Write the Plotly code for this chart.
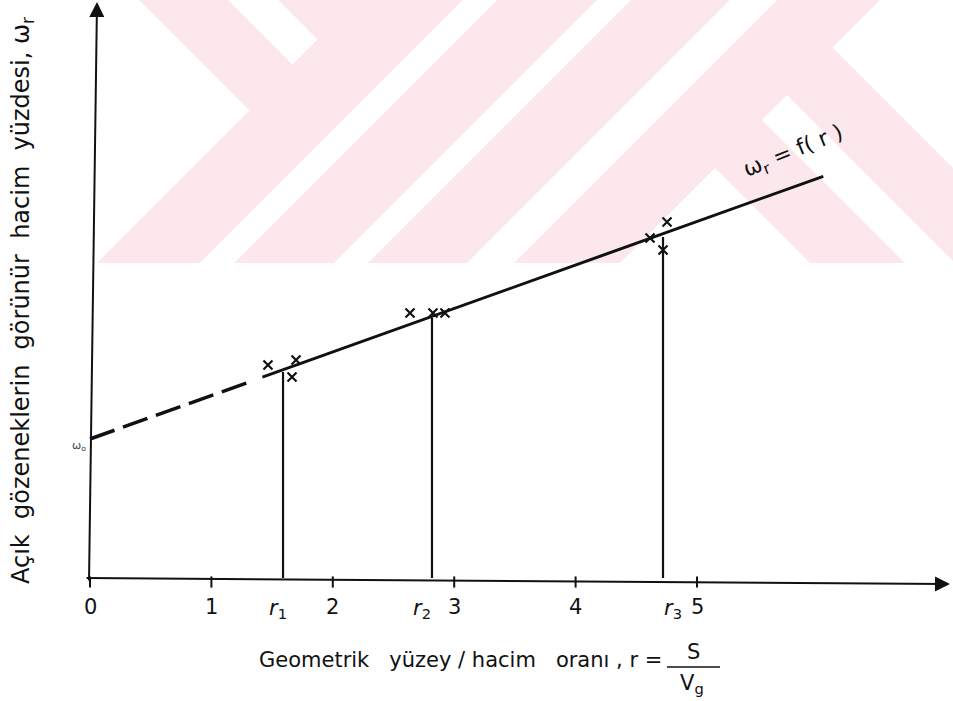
import plotly.graph_objects as go

# ---------------- data ----------------
x_ticks = [0, 1, 2, 3, 4, 5]
x_tick_labels = ["0", "1", "2", "3", "4", "5"]

r_dashed = [0.0, 1.32]          # extrapolated part of omega_r = f(r)
w_dashed = [1.39, 1.964]
r_solid = [1.42, 6.04]          # measured part of omega_r = f(r)
w_solid = [2.008, 4.017]

r_marks = [1.59, 2.817, 4.72]   # r1, r2, r3
w_marks = [2.06, 2.60, 3.41]
r_mark_labels = ["<i>r</i><sub>1</sub>", "<i>r</i><sub>2</sub>", "<i>r</i><sub>3</sub>"]

cross_r = [1.466, 1.697, 1.664, 2.636, 2.825, 2.924, 4.613, 4.753, 4.72]
cross_w = [2.13, 2.18, 2.01, 2.65, 2.65, 2.65, 3.40, 3.56, 3.28]

# ---------------- layout helpers ----------------
W, H = 953, 701
PX0, PXU = 90.0, 121.4      # pixel of r=0, pixels per r unit
PY0, PYU = 578.0, 100.0     # pixel of w=0, pixels per w unit
x_range = [-PX0 / PXU, (W - PX0) / PXU]
y_range = [(PY0 - H) / PYU, PY0 / PYU]

def px(x):
    return x / W

def py(y):
    return 1 - y / H

FONT = "DejaVu Sans"
INK = "#111111"
PINK = "#fce8ec"
SP3 = "\u00a0\u00a0 "
SP2 = "\u00a0 "

fig = go.Figure()

# dashed extrapolation
fig.add_trace(go.Scatter(x=r_dashed, y=w_dashed, mode="lines",
                         line=dict(color=INK, width=3.5, dash="26px,9px"),
                         hoverinfo="skip", showlegend=False))
# solid line
fig.add_trace(go.Scatter(x=r_solid, y=w_solid, mode="lines",
                         line=dict(color=INK, width=3),
                         hoverinfo="skip", showlegend=False))
# vertical lines at r1, r2, r3
vx, vy = [], []
for r, w in zip(r_marks, w_marks):
    vx += [r, r, None]
    vy += [w, 0, None]
fig.add_trace(go.Scatter(x=vx, y=vy, mode="lines",
                         line=dict(color=INK, width=2.2),
                         hoverinfo="skip", showlegend=False))
# measured points (crosses)
fig.add_trace(go.Scatter(x=cross_r, y=cross_w, mode="markers",
                         marker=dict(symbol="x-thin-open", size=9, color=INK,
                                     line=dict(color=INK, width=2.2)),
                         hoverinfo="skip", showlegend=False))
# tick marks on the x axis
fig.add_trace(go.Scatter(x=x_ticks, y=[-0.04] * len(x_ticks), mode="markers",
                         marker=dict(symbol="line-ns-open", size=8, color=INK,
                                     line=dict(color=INK, width=2)),
                         hoverinfo="skip", showlegend=False))

# ---------------- watermark (decorative, pixel coordinates) ----------------
def poly(pts, color):
    d = "M " + " L ".join(f"{px(a):.5f},{py(b):.5f}" for a, b in pts) + " Z"
    return dict(type="path", xref="paper", yref="paper", path=d,
                fillcolor=color, line=dict(width=0), layer="below")

shapes = [dict(type="rect", xref="paper", yref="paper",
               x0=px(90), x1=px(953), y0=py(263), y1=py(0),
               fillcolor=PINK, line=dict(width=0), layer="below")]
white_polys = [
    [(90, 0), (139, 0), (249.5, 110.5), (97, 263), (90, 263)],
    [(228, 0), (278, 0), (317.5, 39.5), (292.5, 64.5)],
    [(463, 0), (497, 0), (234, 263), (200, 263)],
    [(597, 0), (631, 0), (368, 263), (334, 263)],
    [(730, 0), (777, 0), (514, 263), (467, 263)],
    [(715, 168), (620, 263), (810, 263)],
    [(762, 120), (787, 95), (955, 263), (905, 263)],
    [(880, 0), (953, 0), (953, 168), (832.5, 47.5)],
]
for p in white_polys:
    shapes.append(poly(p, "white"))

# fraction bar of r = S / Vg
shapes.append(dict(type="line", xref="paper", yref="paper",
                   x0=px(667), x1=px(720), y0=py(667), y1=py(667),
                   line=dict(color=INK, width=1.6)))

# ---------------- annotations ----------------
ann = []
# axes with arrow heads
ann.append(dict(x=(950 - PX0) / PXU, y=(PY0 - 584) / PYU, ax=-865, ay=-6,
                xref="x", yref="y", text="", showarrow=True,
                arrowhead=2, arrowsize=1.5, arrowwidth=2, arrowcolor=INK))
ann.append(dict(x=(97 - PX0) / PXU, y=(PY0 - 2) / PYU, ax=-8, ay=580,
                xref="x", yref="y", text="", showarrow=True,
                arrowhead=2, arrowsize=1.5, arrowwidth=2, arrowcolor=INK))
# tick labels
for t, lab in zip(x_ticks, x_tick_labels):
    ann.append(dict(x=t, y=(PY0 - 607) / PYU, xref="x", yref="y", text=lab,
                    xanchor="center", yanchor="middle",
                    showarrow=False, font=dict(family=FONT, size=21, color=INK)))
# r1, r2, r3 labels
shifts = [-5, -10, 10]
for r, lab, s in zip(r_marks, r_mark_labels, shifts):
    ann.append(dict(x=r, y=(PY0 - 609) / PYU, xref="x", yref="y", text=lab,
                    xshift=s, showarrow=False, xanchor="center", yanchor="middle",
                    font=dict(family=FONT, size=21, color=INK)))
# curve label
ann.append(dict(x=(793 - PX0) / PXU, y=(PY0 - 152) / PYU, xref="x", yref="y",
                text="ω<sub>r</sub> = f( r )", textangle=-22, showarrow=False,
                xanchor="center", yanchor="middle",
                font=dict(family=FONT, size=22, color=INK)))
# omega_0 mark at the intercept
ann.append(dict(x=(79 - PX0) / PXU, y=(PY0 - 446) / PYU, xref="x", yref="y",
                text="ω<sub>o</sub>", showarrow=False,
                xanchor="center", yanchor="middle",
                font=dict(family=FONT, size=11, color="#444")))
# x-axis title
ann.append(dict(x=px(664), y=py(660), xref="paper", yref="paper",
                xanchor="right", yanchor="middle",
                text="Geometrik" + SP3 + "yüzey / hacim" + SP3 + "oranı , r =",
                showarrow=False, font=dict(family=FONT, size=21, color=INK)))
ann.append(dict(x=px(693), y=py(652), xref="paper", yref="paper",
                xanchor="center", yanchor="middle",
                text="S", showarrow=False,
                font=dict(family=FONT, size=21, color=INK)))
ann.append(dict(x=px(692), y=py(684), xref="paper", yref="paper",
                xanchor="center", yanchor="middle",
                text="V<sub>g</sub>", showarrow=False,
                font=dict(family=FONT, size=21, color=INK)))
# y-axis title
ann.append(dict(x=px(22), y=py(301), xref="paper", yref="paper",
                xanchor="center", yanchor="middle",
                text="Açık" + SP2 + "gözeneklerin" + SP2 + "görünür" + SP2 + "hacim" + SP2
                     + "yüzdesi, ω<sub>r</sub>",
                textangle=-90, showarrow=False,
                font=dict(family=FONT, size=24, color=INK)))

fig.update_layout(
    width=W, height=H, autosize=False,
    margin=dict(l=0, r=0, t=0, b=0, pad=0),
    paper_bgcolor="white", plot_bgcolor="white",
    xaxis=dict(range=x_range, visible=False, fixedrange=True),
    yaxis=dict(range=y_range, visible=False, fixedrange=True),
    shapes=shapes, annotations=ann, showlegend=False,
)

fig.write_html("out.html")
